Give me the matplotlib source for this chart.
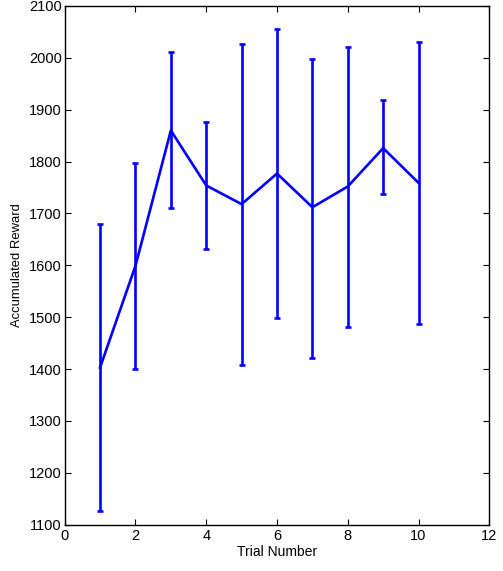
import matplotlib
matplotlib.use("Agg")
import matplotlib.pyplot as plt

trials = [1, 2, 3, 4, 5, 6, 7, 8, 9, 10]
mean_reward = [1403, 1599, 1860, 1754, 1718, 1777, 1712, 1752, 1826, 1759]
upper = [1680, 1798, 2012, 1877, 2027, 2056, 1998, 2021, 1919, 2031]
lower = [1127, 1400, 1710, 1632, 1408, 1499, 1421, 1481, 1738, 1486]

xticks = [0, 2, 4, 6, 8, 10, 12]
yticks = [1100, 1200, 1300, 1400, 1500, 1600, 1700, 1800, 1900, 2000, 2100]

plt.rcParams['font.family'] = ['Liberation Sans', 'DejaVu Sans']

fig = plt.figure(figsize=(5.03, 5.71), dpi=100)
ax = fig.add_axes([0.1286, 0.0811, 0.8442, 0.9084])

yerr = [[m - l for m, l in zip(mean_reward, lower)],
        [u - m for m, u in zip(mean_reward, upper)]]
ax.errorbar(trials, mean_reward, yerr=yerr, color='#0000ff', lw=1.9,
            elinewidth=1.9, capsize=2.3, capthick=1.9)

ax.set_xlim(0, 12)
ax.set_ylim(1100, 2100)
ax.set_xticks(xticks)
ax.set_yticks(yticks)
ax.tick_params(axis='both', direction='in', top=True, right=True, labelsize=10.5,
               length=4, width=0.8)
ax.tick_params(axis='x', pad=3)
ax.tick_params(axis='y', pad=2)
for s in ax.spines.values():
    s.set_linewidth(1.0)
ax.set_xlabel('Trial Number', fontsize=10, labelpad=1.5)
ax.set_ylabel('Accumulated Reward', fontsize=9.4, labelpad=4)

fig.savefig('out.png', dpi=100)
